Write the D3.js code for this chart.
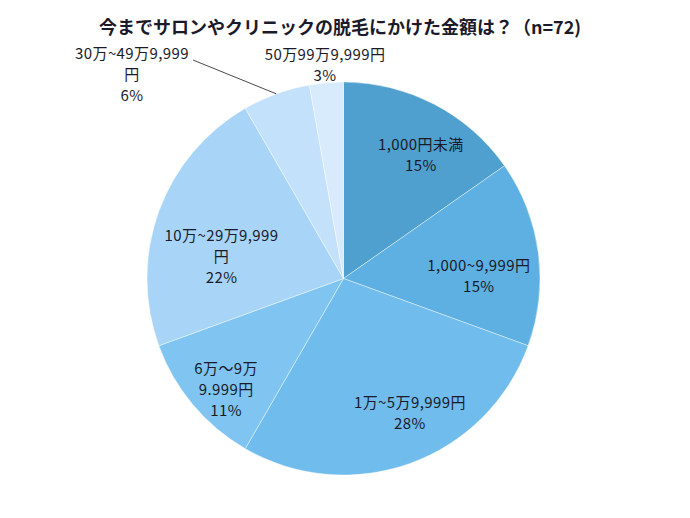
<!DOCTYPE html>
<html><head><meta charset="utf-8">
<script src="https://cdn.jsdelivr.net/npm/d3@7"></script>
<style>
html,body{margin:0;padding:0;background:#fff;}
text{font-family:"Noto Sans CJK JP","Noto Sans",sans-serif;fill:#1a1a2a;}
</style></head><body>
<svg id="chart" width="690" height="518"></svg>
<script>
const title = "今までサロンやクリニックの脱毛にかけた金額は？（n=72)";
const categories = ["1,000円未満", "1,000~9,999円", "1万~5万9,999円", "6万～9万\n9.999円", "10万~29万9,999\n円", "30万~49万9,999\n円", "50万99万9,999円"];
// respondent counts (n=72)
const counts = [11, 11, 20, 8, 16, 4, 2];

const colors = ["#4fa0cf", "#5eb0e2", "#70bcec", "#80c5f1", "#a8d5f7", "#c4e1fb", "#d8ebfc"];
// label layout: offset from centroid (inside)
const labelOffsets = [[12, 2], [-5, 16], [18, 2], [-9, 21], [11, 27], null, null];

const total = d3.sum(counts);
const percentLabels = counts.map(c => Math.round(c / total * 100) + "%");

const svg = d3.select("#chart");
const cx = 343.5, cy = 278.5, R = 196.5;

svg.append("text").attr("x", 340).attr("y", 34).attr("text-anchor", "middle")
  .style("font-size", "18px").style("font-weight", "bold").text(title);

const pie = d3.pie().sort(null).value(d => d);
const arcs = pie(counts);
const arc = d3.arc().innerRadius(0).outerRadius(R);
const labelArc = d3.arc().innerRadius(R * 0.72).outerRadius(R * 0.72);

const g = svg.append("g").attr("transform", `translate(${cx},${cy})`);
g.selectAll("path").data(arcs).join("path")
  .attr("d", arc).attr("fill", (d, i) => colors[i])
  .attr("stroke", "#ffffff").attr("stroke-opacity", 0.5).attr("stroke-width", 0.8);

const lh = 21;
function drawLabel(x, y, lines) {
  const t = g.append("text").attr("text-anchor", "middle")
    .style("font-size", "15px").style("letter-spacing", "0.4px");
  const n = lines.length;
  lines.forEach((l, k) => {
    t.append("tspan").attr("x", x).attr("y", y + (k - (n - 1) / 2) * lh + 5).text(l);
  });
}

arcs.forEach((d, i) => {
  const lines = categories[i].split("\n").concat([percentLabels[i]]);
  if (labelOffsets[i]) {
    const [x, y] = labelArc.centroid(d);
    drawLabel(x + labelOffsets[i][0], y + labelOffsets[i][1], lines);
  }
});

// outside label for slice 6 with leader line
{
  const d = arcs[5];
  const mid = (d.startAngle + d.endAngle) / 2;
  const px = R * Math.sin(mid), py = -R * Math.cos(mid);
  g.append("line").attr("x1", px).attr("y1", py)
    .attr("x2", 193 - cx).attr("y2", 60 - cy)
    .attr("stroke", "#333").attr("stroke-width", 0.9);
  drawLabel(132 - cx, 75 - cy, categories[5].split("\n").concat([percentLabels[5]]));
}
// outside label for slice 7
{
  drawLabel(325 - cx, 65 - cy, categories[6].split("\n").concat([percentLabels[6]]));
}
</script>
</body></html>
